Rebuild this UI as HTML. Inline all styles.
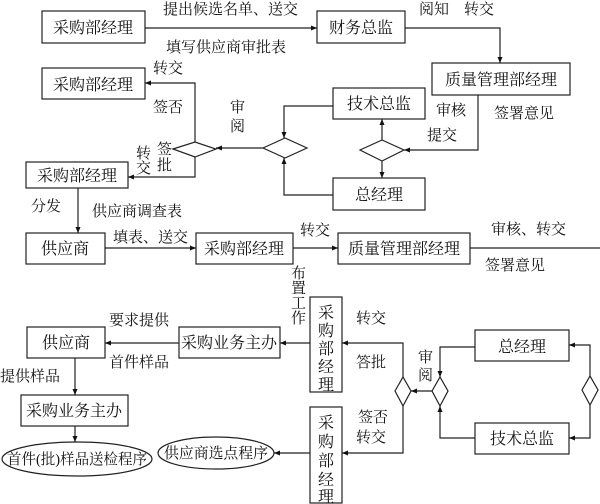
<!DOCTYPE html>
<html><head><meta charset="utf-8"><style>
html,body{margin:0;padding:0;background:#fff;}
svg{display:block;}
text{font-family:"Liberation Serif","Noto Serif CJK SC","Noto Sans CJK SC",serif;font-size:15px;fill:#111;}
.b{font-size:16px;}
</style></head><body>
<svg width="600" height="504" viewBox="0 0 600 504" xmlns="http://www.w3.org/2000/svg">
<defs><marker id="a" markerWidth="6" markerHeight="6" refX="6" refY="3" orient="auto" markerUnits="userSpaceOnUse"><path d="M0,0.5 L6,3 L0,5.5 z" fill="#111"/></marker></defs>
<g fill="none" stroke="#222" stroke-width="1.2">
<rect x="42" y="11" width="103" height="32"/>
<rect x="317" y="11" width="88" height="32"/>
<rect x="432" y="63" width="138" height="32"/>
<rect x="42" y="68" width="103" height="31"/>
<rect x="333" y="88" width="92" height="31"/>
<rect x="333" y="178" width="92" height="32"/>
<rect x="26" y="162" width="102" height="26"/>
<rect x="26" y="233" width="79" height="31"/>
<rect x="196" y="233" width="97" height="31"/>
<rect x="338" y="233" width="132" height="31"/>
<rect x="310" y="297" width="32" height="95"/>
<rect x="179" y="327" width="101" height="31"/>
<rect x="27" y="327" width="78" height="31"/>
<rect x="21" y="395" width="107" height="31"/>
<rect x="310" y="407" width="32" height="96"/>
<rect x="475" y="330" width="94" height="31"/>
<rect x="475" y="423" width="94" height="31"/>
<ellipse cx="77" cy="459" rx="75" ry="17"/>
<ellipse cx="216" cy="453" rx="58" ry="16"/>
<path d="M173,149 L195,142 L216,149 L195,157 Z"/>
<path d="M263,148 L285,138 L307,148 L285,158 Z"/>
<path d="M360,150 L382,140 L404,150 L382,161 Z"/>
<path d="M395,391 L403,377 L411,391 L403,406 Z"/>
<path d="M432,391 L440,377 L448,391 L440,406 Z"/>
<path d="M582,390 L590,376 L598,390 L590,405 Z"/>
<g marker-end="url(#a)">
<path d="M145,28 H317"/>
<path d="M405,28 H500 V63"/>
<path d="M478,95 V150 H404"/>
<path d="M382,140 V119"/>
<path d="M382,161 V178"/>
<path d="M333,106 H284 V138"/>
<path d="M333,195 H284 V158"/>
<path d="M263,148 H216"/>
<path d="M195,142 V83 H145"/>
<path d="M195,157 V177 H128"/>
<path d="M78,188 V233"/>
<path d="M105,248 H196"/>
<path d="M293,248 H338"/>
<path d="M310,343 H280"/>
<path d="M179,343 H105"/>
<path d="M75,358 V395"/>
<path d="M75,426 V442"/>
<path d="M310,453 H274"/>
<path d="M403,377 V343 H342"/>
<path d="M403,406 V453 H342"/>
<path d="M432,391 H411"/>
<path d="M475,347 H440 V377"/>
<path d="M475,438 H440 V406"/>
<path d="M590,376 V345 H569"/>
<path d="M590,405 V438 H569"/>
</g>
<path d="M470,248 H600"/>
</g>
<g>
<text class="b" x="93" y="33" text-anchor="middle">采购部经理</text>
<text class="b" x="361" y="33" text-anchor="middle">财务总监</text>
<text class="b" x="501" y="85" text-anchor="middle">质量管理部经理</text>
<text class="b" x="93" y="90" text-anchor="middle">采购部经理</text>
<text class="b" x="379" y="109" text-anchor="middle">技术总监</text>
<text class="b" x="379" y="200" text-anchor="middle">总经理</text>
<text class="b" x="77" y="181" text-anchor="middle">采购部经理</text>
<text class="b" x="65" y="254" text-anchor="middle">供应商</text>
<text class="b" x="244" y="254" text-anchor="middle">采购部经理</text>
<text class="b" x="404" y="254" text-anchor="middle">质量管理部经理</text>
<text class="b" x="229" y="348" text-anchor="middle">采购业务主办</text>
<text class="b" x="66" y="348" text-anchor="middle">供应商</text>
<text class="b" x="74" y="416" text-anchor="middle">采购业务主办</text>
<text class="b" x="522" y="352" text-anchor="middle">总经理</text>
<text class="b" x="522" y="444" text-anchor="middle">技术总监</text>
<text x="77" y="464" text-anchor="middle" textLength="140" lengthAdjust="spacingAndGlyphs">首件(批)样品送检程序</text>
<text x="216" y="458" text-anchor="middle" textLength="104" lengthAdjust="spacingAndGlyphs">供应商选点程序</text>
<text class="b" text-anchor="middle"><tspan x="326" y="318">采</tspan><tspan x="326" y="336">购</tspan><tspan x="326" y="354">部</tspan><tspan x="326" y="372">经</tspan><tspan x="326" y="390">理</tspan></text>
<text class="b" text-anchor="middle"><tspan x="326" y="428">采</tspan><tspan x="326" y="447">购</tspan><tspan x="326" y="466">部</tspan><tspan x="326" y="485">经</tspan><tspan x="326" y="502">理</tspan></text>
<text x="163" y="14">提出候选名单、送交</text>
<text x="166" y="52">填写供应商审批表</text>
<text x="419" y="14">阅知　转交</text>
<text x="153" y="73">转交</text>
<text x="153" y="112">签否</text>
<text x="230" y="112">审</text><text x="230" y="131">阅</text>
<text x="436" y="115">审核</text>
<text x="427" y="140">提交</text>
<text x="494" y="118">签署意见</text>
<text font-size="13" x="157" y="154">签</text><text font-size="13" x="157" y="170">批</text>
<text font-size="13" x="136" y="158">转</text><text font-size="13" x="136" y="173">交</text>
<text x="31" y="211">分发</text>
<text x="92" y="216">供应商调查表</text>
<text x="113" y="242">填表、送交</text>
<text x="300" y="235">转交</text>
<text x="491" y="234">审核、转交</text>
<text x="485" y="270">签署意见</text>
<text font-size="13" x="291" y="278">布</text><text font-size="13" x="291" y="293">置</text><text font-size="13" x="291" y="308">工</text><text font-size="13" x="291" y="323">作</text>
<text x="109" y="325">要求提供</text>
<text x="109" y="367">首件样品</text>
<text x="0" y="381">提供样品</text>
<text x="356" y="323">转交</text>
<text x="356" y="367">答批</text>
<text x="418" y="362">审</text><text x="418" y="380">阅</text>
<text x="358" y="422">签否</text>
<text x="356" y="442">转交</text>
</g>
</svg>
</body></html>
